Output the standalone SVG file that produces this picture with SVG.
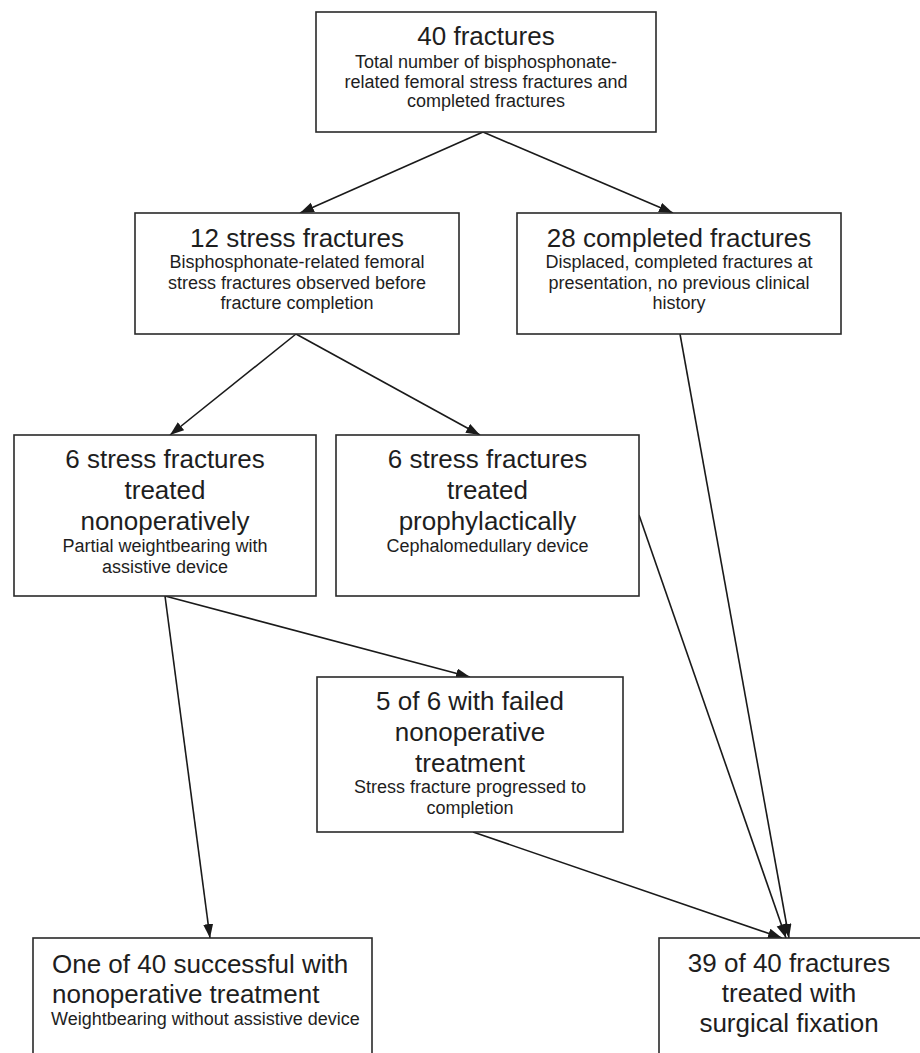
<svg xmlns="http://www.w3.org/2000/svg" width="920" height="1053" viewBox="0 0 920 1053">
<style>
  .box{fill:#fff;stroke:#2a2a2a;stroke-width:1.6}
  .t{font-family:"Liberation Sans",Arial,Helvetica,sans-serif;font-size:26px;fill:#1e1e1e;text-anchor:middle}
  .s{font-family:"Liberation Sans",Arial,Helvetica,sans-serif;font-size:18px;fill:#1e1e1e;text-anchor:middle}
  .l{text-anchor:start}
  .c{stroke:#1a1a1a;stroke-width:1.6;fill:none;marker-end:url(#ah)}
</style>
<defs>
  <marker id="ah" markerUnits="userSpaceOnUse" markerWidth="15" markerHeight="11" refX="14" refY="5" orient="auto">
    <path d="M0,0 L14,5 L0,10 z" fill="#1a1a1a"/>
  </marker>
</defs>
<rect width="920" height="1053" fill="#fff"/>
<g id="connectors">
  <line class="c" x1="483" y1="132" x2="300" y2="213"/>
  <line class="c" x1="483" y1="132" x2="673" y2="213"/>
  <line class="c" x1="296" y1="334" x2="170" y2="435"/>
  <line class="c" x1="296" y1="334" x2="480" y2="435"/>
  <line class="c" x1="165" y1="596" x2="470" y2="677"/>
  <line class="c" x1="165" y1="596" x2="210" y2="938"/>
  <line class="c" x1="680" y1="334" x2="789" y2="938"/>
  <line class="c" x1="639" y1="515" x2="786" y2="938"/>
  <line class="c" x1="473" y1="832" x2="782" y2="938"/>
</g>
<g id="n40">
  <rect class="box" x="316" y="12" width="340" height="120"/>
  <text class="t" x="486" y="45">40 fractures</text>
  <text class="s" x="486" y="68">Total number of bisphosphonate-</text>
  <text class="s" x="486" y="88">related femoral stress fractures and</text>
  <text class="s" x="486" y="107">completed fractures</text>
</g>
<g id="n12">
  <rect class="box" x="135" y="213" width="324" height="121"/>
  <text class="t" x="297" y="247">12 stress fractures</text>
  <text class="s" x="297" y="268">Bisphosphonate-related femoral</text>
  <text class="s" x="297" y="289">stress fractures observed before</text>
  <text class="s" x="297" y="309">fracture completion</text>
</g>
<g id="n28">
  <rect class="box" x="517" y="213" width="324" height="121"/>
  <text class="t" x="679" y="247">28 completed fractures</text>
  <text class="s" x="679" y="268">Displaced, completed fractures at</text>
  <text class="s" x="679" y="289">presentation, no previous clinical</text>
  <text class="s" x="679" y="309">history</text>
</g>
<g id="nNonop">
  <rect class="box" x="14" y="435" width="302" height="161"/>
  <text class="t" x="165" y="468">6 stress fractures</text>
  <text class="t" x="165" y="499">treated</text>
  <text class="t" x="165" y="530">nonoperatively</text>
  <text class="s" x="165" y="552">Partial weightbearing with</text>
  <text class="s" x="165" y="573">assistive device</text>
</g>
<g id="nProph">
  <rect class="box" x="336" y="435" width="303" height="161"/>
  <text class="t" x="487.5" y="468">6 stress fractures</text>
  <text class="t" x="487.5" y="499">treated</text>
  <text class="t" x="487.5" y="530">prophylactically</text>
  <text class="s" x="487.5" y="552">Cephalomedullary device</text>
</g>
<g id="nFailed">
  <rect class="box" x="317" y="677" width="306" height="155"/>
  <text class="t" x="470" y="710">5 of 6 with failed</text>
  <text class="t" x="470" y="741">nonoperative</text>
  <text class="t" x="470" y="772">treatment</text>
  <text class="s" x="470" y="793">Stress fracture progressed to</text>
  <text class="s" x="470" y="814">completion</text>
</g>
<g id="nSuccess">
  <rect class="box" x="33" y="938" width="339" height="130"/>
  <text class="t l" x="52" y="973">One of 40 successful with</text>
  <text class="t l" x="52" y="1003">nonoperative treatment</text>
  <text class="s l" x="51" y="1025">Weightbearing without assistive device</text>
</g>
<g id="nSurgical">
  <rect class="box" x="659" y="938" width="280" height="130"/>
  <text class="t" x="789" y="972">39 of 40 fractures</text>
  <text class="t" x="789" y="1002">treated with</text>
  <text class="t" x="789" y="1032">surgical fixation</text>
</g>
</svg>
